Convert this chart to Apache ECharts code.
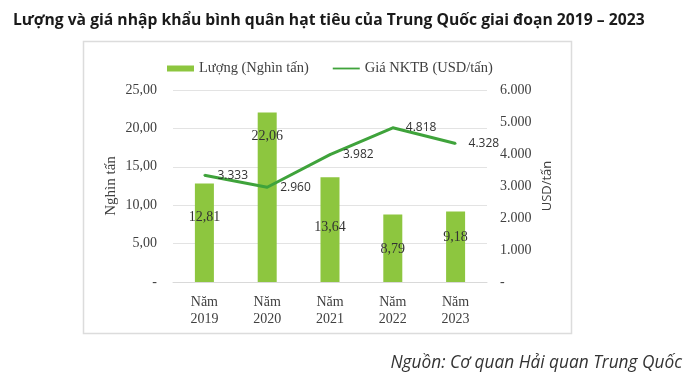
<!DOCTYPE html>
<html>
<head>
<meta charset="utf-8">
<script src="https://cdn.jsdelivr.net/npm/echarts@6/dist/echarts.min.js"></script>
<style>
  html, body { margin: 0; padding: 0; background: #fff; }
  #main { width: 700px; height: 378px; }
</style>
</head>
<body>
<div id="main"></div>
<script>
// du lieu doc tu hinh
const years = ['Năm\n2019', 'Năm\n2020', 'Năm\n2021', 'Năm\n2022', 'Năm\n2023'];
const luong = [12.81, 22.06, 13.64, 8.79, 9.18];      // nghin tan
const giaNKTB = [3333, 2960, 3982, 4818, 4328];         // USD/tan
const leftTicks = [0, 25, 5];
const rightTicks = [0, 6000, 1000];

// vi tri nhan trong cot (Excel dat tay, moi cot mot khac)
const barLabelOffsets = [35, 25, 51, 36, 27];

const serif = '"Liberation Serif", "DejaVu Serif", serif';
const sans = '"Open Sans", "Noto Sans", sans-serif';

function fmtLeft(v) {
    if (v === 0) return '-';
    return v.toFixed(2).replace('.', ',');
}
function fmtRight(v) {
    if (v === 0) return '-';
    return String(v).replace(/\B(?=(\d{3})+(?!\d))/g, '.');
}

const barData = luong.map((v, i) => ({
    value: v,
    label: { offset: [0, barLabelOffsets[i] - 13] }
}));

const option = {
    animation: false,
    textStyle: { fontFamily: serif },
    title: {
        text: 'Lượng và giá nhập khẩu bình quân hạt tiêu của Trung Quốc giai đoạn 2019 – 2023',
        left: 8,
        top: 8,
        textStyle: { fontFamily: sans, fontSize: 15.7, fontWeight: 'bold', color: '#1a1a1a' }
    },
    legend: {
        top: 56,
        left: 162,
        itemGap: 24,
        itemWidth: 27,
        itemHeight: 6,
        textStyle: { fontFamily: serif, fontSize: 14.5, color: '#404040' },
        data: [
            { name: 'Lượng (Nghìn tấn)', icon: 'rect' },
            { name: 'Giá NKTB (USD/tấn)', icon: 'path://M0,0 L30,0 L30,2 L0,2 Z' }
        ]
    },
    grid: { left: 173, right: 213, top: 90, bottom: 96 },
    xAxis: {
        type: 'category',
        data: years,
        axisTick: { show: false },
        axisLine: { lineStyle: { color: '#d9d9d9' } },
        axisLabel: { fontFamily: serif, fontSize: 14, color: '#404040', lineHeight: 17, margin: 12 }
    },
    yAxis: [
        {
            type: 'value',
            min: leftTicks[0], max: leftTicks[1], interval: leftTicks[2],
            name: 'Nghìn tấn',
            nameLocation: 'middle',
            nameRotate: 90,
            nameGap: 54,
            nameTextStyle: { fontFamily: serif, fontSize: 15, color: '#404040' },
            axisLabel: { formatter: fmtLeft, fontFamily: serif, fontSize: 14, color: '#404040', margin: 16 },
            splitLine: { lineStyle: { color: '#e3e3e3' } },
            axisLine: { show: false },
            axisTick: { show: false }
        },
        {
            type: 'value',
            min: rightTicks[0], max: rightTicks[1], interval: rightTicks[2],
            name: 'USD/tấn',
            nameLocation: 'middle',
            nameRotate: 90,
            nameGap: 54,
            nameTextStyle: { fontFamily: sans, fontSize: 13, color: '#404040' },
            axisLabel: { formatter: fmtRight, fontFamily: serif, fontSize: 14, color: '#404040', margin: 13 },
            splitLine: { show: false },
            axisLine: { show: false },
            axisTick: { show: false }
        }
    ],
    series: [
        {
            name: 'Lượng (Nghìn tấn)',
            type: 'bar',
            yAxisIndex: 0,
            data: barData,
            barWidth: 19,
            itemStyle: { color: '#8dc63f' },
            label: {
                show: true,
                position: 'insideTop',
                formatter: p => p.value.toFixed(2).replace('.', ','),
                fontFamily: serif,
                fontSize: 14,
                color: '#333'
            }
        },
        {
            name: 'Giá NKTB (USD/tấn)',
            type: 'line',
            yAxisIndex: 1,
            data: giaNKTB,
            symbol: 'circle',
            symbolSize: 2,
            showSymbol: true,
            lineStyle: { color: '#3fa33b', width: 3 },
            itemStyle: { color: '#3fa33b' },
            label: {
                show: true,
                position: 'right',
                distance: 12,
                formatter: p => fmtRight(p.value),
                fontFamily: sans,
                fontSize: 12,
                color: '#333'
            }
        }
    ],
    graphic: [
        {
            type: 'rect',
            shape: { x: 83.5, y: 41.5, width: 488, height: 292 },
            style: { fill: 'none', stroke: '#dcdcdc', lineWidth: 1.5 },
            silent: true
        },
        {
            type: 'text',
            right: 18,
            top: 355,
            style: {
                text: 'Nguồn: Cơ quan Hải quan Trung Quốc',
                font: 'italic 17.3px "Open Sans", sans-serif',
                fill: '#333'
            }
        }
    ]
};

const myChart = echarts.init(document.getElementById('main'));
myChart.setOption(option);
</script>
</body>
</html>
